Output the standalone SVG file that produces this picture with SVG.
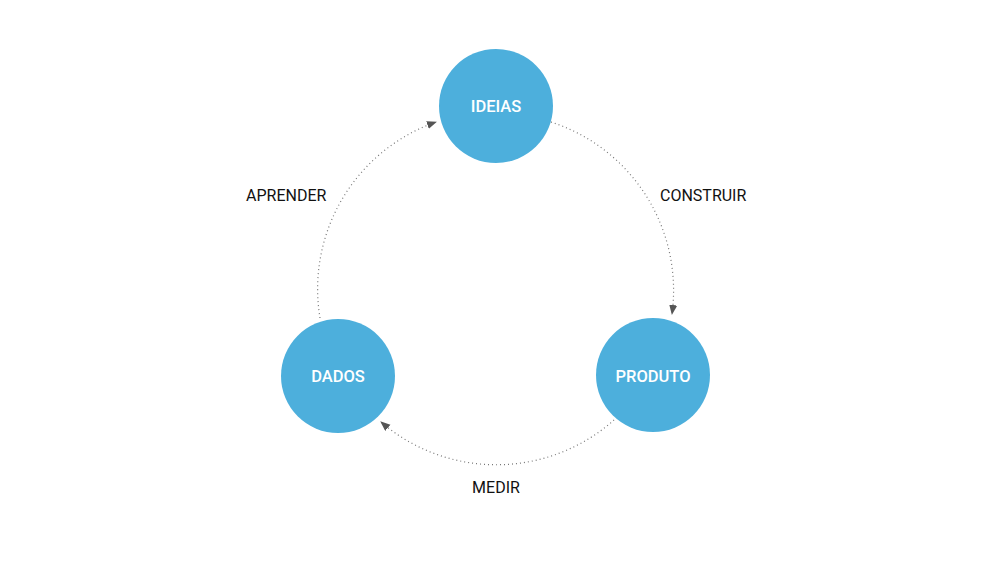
<svg xmlns="http://www.w3.org/2000/svg" width="1000" height="562" viewBox="0 0 1000 562">
<style>
.node{fill:#4DAFDC}
.nl{font-family:Roboto,"Liberation Sans",sans-serif;font-size:16.5px;font-weight:500;fill:#fff;text-anchor:middle}
.el{font-family:Roboto,"Liberation Sans",sans-serif;font-size:16px;fill:#111}
.edge{fill:none;stroke:#777;stroke-width:1.2;stroke-dasharray:1 3}
</style>
<defs>
<marker id="ah" markerUnits="userSpaceOnUse" markerWidth="12" markerHeight="10" refX="9" refY="4" orient="auto">
<path d="M0,0 L10,4 L0,8 Z" fill="#555"/>
</marker>
</defs>
<rect width="1000" height="562" fill="#fff"/>
<g id="connectors">
<path class="edge" d="M 551 122 A 177 177 0 0 1 672 314" marker-end="url(#ah)"/>
<path class="edge" d="M 614 420 A 177 177 0 0 1 381 422" marker-end="url(#ah)"/>
<path class="edge" d="M 320 318 A 177 177 0 0 1 436 122" marker-end="url(#ah)"/>
</g>
<g id="ideias"><circle class="node" cx="496" cy="106" r="57"/><text class="nl" x="496" y="112">IDEIAS</text></g>
<g id="produto"><circle class="node" cx="653" cy="375" r="57"/><text class="nl" x="653" y="382">PRODUTO</text></g>
<g id="dados"><circle class="node" cx="338" cy="376" r="57"/><text class="nl" x="338" y="382">DADOS</text></g>
<g id="labels">
<text class="el" x="660" y="201">CONSTRUIR</text>
<text class="el" x="246" y="201">APRENDER</text>
<text class="el" x="496" y="493" text-anchor="middle">MEDIR</text>
</g>
</svg>
